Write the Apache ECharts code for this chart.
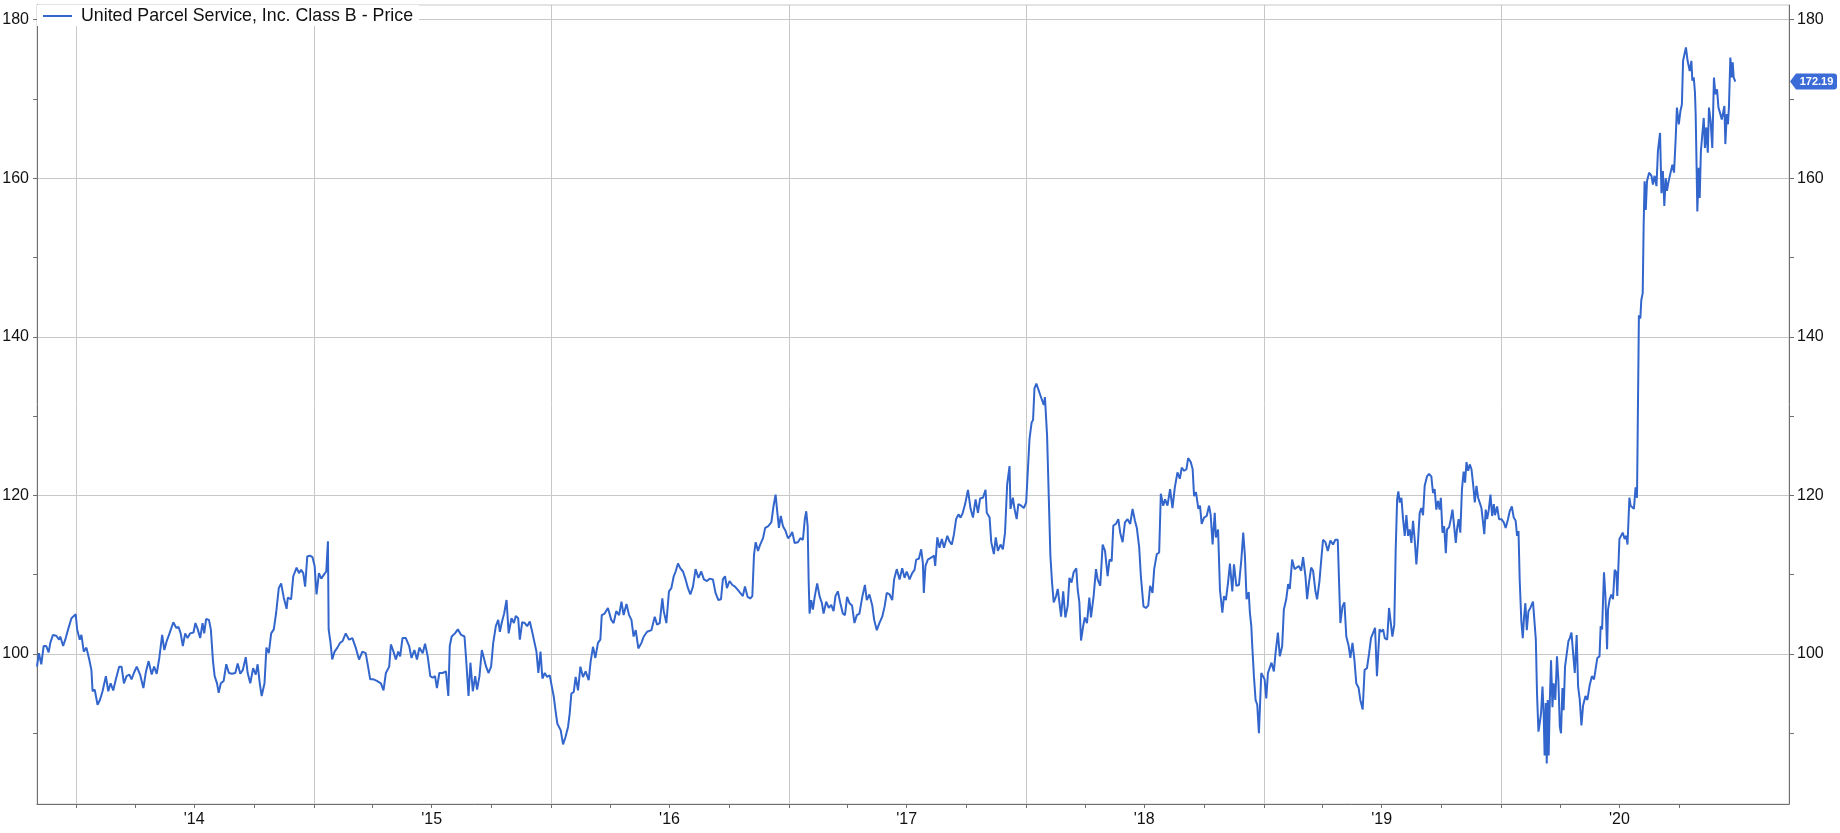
<!DOCTYPE html>
<html>
<head>
<meta charset="utf-8">
<script src="https://cdn.jsdelivr.net/npm/echarts@6/dist/echarts.min.js"></script>
<style>
  html, body { margin: 0; padding: 0; background: #fff; }
  #chart { width: 1840px; height: 833px; }
</style>
</head>
<body>
<div id="chart"></div>
<script>
// ---- Data (time as decimal year, price in USD) ----
const seriesName = 'United Parcel Service, Inc. Class B - Price';

const times = [
  2013.834,2013.842,2013.852,2013.862,2013.873,2013.883,2013.890,2013.901,2013.915,2013.927,
  2013.932,2013.944,2013.955,2013.965,2013.979,2013.997,2014.003,2014.014,2014.021,2014.031,
  2014.042,2014.054,2014.063,2014.068,2014.077,2014.089,2014.099,2014.110,2014.124,2014.134,
  2014.144,2014.155,2014.166,2014.180,2014.190,2014.200,2014.211,2014.223,2014.232,2014.242,
  2014.254,2014.268,2014.282,2014.293,2014.304,2014.317,2014.327,2014.338,2014.349,2014.361,
  2014.370,2014.380,2014.392,2014.408,2014.420,2014.430,2014.439,2014.448,2014.458,2014.468,
  2014.479,2014.493,2014.501,2014.511,2014.521,2014.531,2014.538,2014.546,2014.558,2014.566,
  2014.575,2014.582,2014.592,2014.599,2014.608,2014.620,2014.631,2014.642,2014.655,2014.669,
  2014.679,2014.690,2014.701,2014.713,2014.721,2014.732,2014.744,2014.755,2014.763,2014.772,
  2014.780,2014.792,2014.800,2014.810,2014.820,2014.831,2014.841,2014.852,2014.862,2014.873,
  2014.885,2014.890,2014.904,2014.913,2014.927,2014.937,2014.946,2014.955,2014.963,2014.972,
  2014.983,2014.994,2015.003,2015.011,2015.021,2015.031,2015.042,2015.052,2015.059,2015.062,
  2015.070,2015.077,2015.087,2015.099,2015.110,2015.120,2015.134,2015.148,2015.162,2015.176,
  2015.190,2015.204,2015.218,2015.228,2015.237,2015.251,2015.265,2015.282,2015.293,2015.303,
  2015.317,2015.324,2015.335,2015.345,2015.355,2015.363,2015.373,2015.387,2015.401,2015.411,
  2015.423,2015.434,2015.444,2015.458,2015.468,2015.479,2015.490,2015.500,2015.510,2015.518,
  2015.528,2015.542,2015.556,2015.566,2015.572,2015.580,2015.594,2015.606,2015.620,2015.634,
  2015.641,2015.651,2015.659,2015.669,2015.679,2015.687,2015.697,2015.707,2015.715,2015.725,
  2015.735,2015.746,
  2015.755,2015.766,2015.776,2015.783,2015.792,2015.801,2015.811,2015.820,2015.832,2015.842,
  2015.850,2015.860,2015.867,2015.877,2015.888,2015.898,2015.909,2015.919,2015.927,2015.937,
  2015.945,2015.954,2015.962,2015.972,2015.982,2015.993,2016.003,2016.010,2016.018,2016.025,
  2016.032,2016.039,2016.049,2016.059,2016.070,2016.077,2016.084,2016.094,2016.102,2016.112,
  2016.122,2016.133,2016.144,2016.157,2016.165,2016.175,2016.185,2016.196,2016.206,2016.212,
  2016.224,2016.238,2016.252,2016.262,2016.273,2016.285,2016.295,2016.304,2016.316,2016.327,
  2016.337,2016.346,2016.355,2016.366,2016.379,2016.389,2016.403,2016.421,2016.435,2016.445,
  2016.456,2016.467,2016.473,2016.484,2016.495,2016.505,2016.515,2016.523,2016.533,2016.543,
  2016.554,2016.565,2016.575,2016.585,2016.596,2016.607,2016.619,2016.631,2016.642,2016.655,
  2016.666,2016.680,2016.691,2016.703,2016.714,2016.722,2016.731,2016.739,2016.750,2016.762,
  2016.773,2016.784,2016.795,2016.806,2016.815,2016.826,2016.837,2016.846,2016.853,2016.860,
  2016.870,2016.879,2016.891,2016.900,2016.912,2016.926,2016.935,2016.944,2016.950,2016.958,
  2016.966,2016.975,2016.986,2016.996,2017.006,2017.014,2017.024,2017.038,2017.048,2017.059,
  2017.067,2017.073,2017.079,2017.083,2017.087,2017.094,2017.101,2017.109,2017.119,2017.129,
  2017.139,2017.146,2017.157,2017.168,2017.178,2017.188,2017.196,2017.206,2017.216,2017.227,
  2017.236,2017.245,2017.255,2017.266,2017.276,2017.286,2017.297,2017.309,2017.320,2017.328,
  2017.339,2017.351,2017.359,2017.370,2017.381,2017.393,2017.403,2017.412,2017.424,2017.435,
  2017.443,2017.454,2017.466,2017.477,2017.487,2017.496,2017.508,2017.519,2017.529,2017.536,
  2017.547,2017.557,2017.564,2017.568,2017.575,2017.585,
  2017.592,2017.602,2017.611,2017.616,2017.625,2017.634,2017.644,2017.653,2017.667,2017.676,
  2017.686,2017.695,2017.704,2017.714,2017.723,2017.732,2017.742,2017.754,2017.765,2017.775,
  2017.786,2017.796,2017.805,2017.817,2017.828,2017.833,2017.845,2017.852,2017.863,2017.871,
  2017.880,2017.891,2017.901,2017.910,2017.919,2017.929,2017.933,2017.943,2017.950,2017.959,
  2017.966,2017.978,2017.989,2017.999,2018.006,2018.013,2018.022,2018.028,2018.034,2018.042,
  2018.050,2018.059,2018.067,2018.073,2018.078,2018.087,2018.094,2018.101,2018.108,2018.115,
  2018.125,2018.132,2018.139,2018.146,2018.155,2018.164,2018.174,2018.181,2018.190,2018.199,
  2018.210,2018.216,2018.223,2018.230,2018.239,2018.246,2018.255,2018.265,2018.272,2018.283,
  2018.293,2018.300,2018.311,2018.321,2018.331,2018.342,2018.350,2018.359,2018.366,2018.377,
  2018.387,2018.395,2018.405,2018.415,2018.426,2018.437,2018.447,2018.457,2018.465,2018.475,
  2018.482,2018.493,2018.503,2018.513,2018.521,2018.531,2018.538,2018.549,2018.559,2018.566,
  2018.576,2018.584,2018.594,2018.605,2018.615,2018.625,2018.636,2018.646,2018.654,2018.664,
  2018.674,2018.681,2018.692,2018.700,2018.706,2018.714,2018.724,2018.731,2018.738,2018.748,
  2018.759,2018.769,2018.776,2018.784,2018.793,2018.798,2018.807,2018.815,2018.825,2018.832,
  2018.840,2018.849,2018.857,2018.867,2018.874,2018.884,2018.895,2018.905,2018.913,2018.920,
  2018.927,2018.936,2018.941,2018.947,2018.951,2018.958,2018.965,2018.972,2018.979,2018.983,
  2018.989,2018.996,2019.003,2019.010,2019.017,2019.025,2019.032,2019.042,2019.049,2019.059,
  2019.067,2019.077,2019.084,2019.094,2019.102,2019.109,2019.119,2019.129,2019.137,2019.147,
  2019.157,2019.165,2019.175,2019.182,2019.189,2019.199,2019.207,2019.217,2019.224,2019.234,
  2019.241,2019.249,2019.259,2019.269,2019.280,2019.291,2019.301,2019.311,2019.317,2019.322,
  2019.331,2019.339,2019.347,2019.357,2019.364,2019.373,2019.381,2019.389,2019.399,2019.406,
  2019.416,2019.424,2019.434,2019.443,2019.451,2019.459,2019.468,2019.476,2019.487,
  2019.495,2019.502,2019.509,2019.519,2019.527,2019.535,2019.541,2019.549,2019.555,2019.561,
  2019.566,2019.572,2019.579,2019.586,2019.593,2019.600,2019.607,2019.614,2019.621,2019.628,
  2019.635,2019.642,2019.649,2019.656,2019.663,2019.670,2019.677,2019.687,2019.695,2019.705,
  2019.712,2019.719,2019.726,2019.733,2019.740,2019.745,2019.752,2019.759,2019.766,2019.771,
  2019.780,2019.787,2019.794,2019.799,2019.808,2019.813,2019.820,2019.827,2019.834,2019.841,
  2019.847,2019.853,2019.860,2019.867,2019.874,2019.881,2019.888,2019.895,2019.902,2019.909,
  2019.916,2019.923,2019.928,2019.934,2019.940,2019.947,2019.954,2019.961,2019.968,2019.973,
  2019.982,2019.990,2020.000,2020.010,2020.018,2020.027,2020.035,2020.044,2020.052,2020.060,
  2020.066,2020.072,2020.077,2020.084,2020.090,2020.095,2020.101,2020.107,2020.114,2020.122,
  2020.133,2020.139,2020.145,2020.150,2020.156,2020.161,2020.167,2020.173,2020.178,2020.182,
  2020.187,2020.191,2020.195,2020.199,2020.204,2020.209,2020.215,2020.220,2020.227,2020.234,
  2020.240,2020.246,2020.251,2020.257,2020.262,2020.268,2020.276,2020.282,2020.288,
  2020.295,2020.302,2020.309,2020.317,2020.323,2020.330,2020.337,2020.344,2020.354,2020.362,
  2020.372,2020.381,2020.390,2020.396,2020.404,2020.413,2020.418,2020.424,2020.432,2020.438,
  2020.445,2020.449,2020.456,2020.463,2020.470,2020.477,2020.484,2020.488,2020.497,2020.505,
  2020.511,2020.519,2020.526,2020.531,2020.539,2020.544,2020.552,2020.558,2020.565,2020.571,
  2020.579,2020.585,2020.589,2020.595,2020.599,2020.603,2020.608,2020.613,2020.622,
  2020.632,2020.638,2020.645,2020.653,2020.659,2020.668,2020.674,2020.680,2020.686,2020.692,
  2020.697,2020.704,2020.712,2020.720,2020.727,2020.734,2020.739,2020.747,2020.754,2020.760,
  2020.765,2020.771,2020.777,2020.784,2020.793,2020.800,2020.804,2020.810,2020.815,2020.818,
  2020.822,2020.825,2020.831,2020.835,2020.840,2020.846,2020.852,2020.857,2020.863,2020.869,
  2020.874,2020.881,2020.888,2020.895,2020.901,2020.908,2020.914,2020.920,2020.928,2020.933,
  2020.939,2020.943,2020.949,2020.954,2020.958,2020.964,2020.970,2020.974,2020.978,2020.985
];

const prices = [
  98.4,100.1,98.7,101.0,101.0,100.2,101.4,102.4,102.3,101.8,
  102.2,101.0,102.0,103.1,104.5,105.0,103.1,101.8,102.4,100.3,
  100.8,99.3,98.0,95.3,95.5,93.6,94.2,95.3,97.2,95.3,
  96.3,95.4,96.8,98.4,98.4,96.3,97.2,97.4,96.8,97.6,
  98.4,97.4,95.7,97.8,99.1,97.4,98.4,97.5,99.5,102.4,
  100.5,101.6,102.6,104.0,103.3,103.4,102.6,101.0,102.6,102.0,
  102.6,102.7,103.9,103.1,102.0,103.9,102.6,104.4,104.3,103.1,
  99.1,97.2,96.3,95.1,96.3,96.6,98.7,97.6,97.5,97.6,
  98.8,97.5,98.0,99.6,97.6,96.3,98.2,97.4,98.7,96.3,
  94.7,96.3,100.8,100.1,102.6,103.1,105.2,108.3,108.9,107.1,
  105.7,107.1,106.9,109.8,110.9,110.2,110.6,110.2,108.5,112.3,
  112.4,112.2,111.1,107.5,110.2,109.5,110.0,110.4,114.2,103.1,
  101.4,99.3,100.3,100.8,101.4,101.6,102.6,101.8,102.0,100.8,
  99.3,100.3,100.1,98.4,96.8,96.8,96.6,96.3,95.4,97.6,
  98.4,101.2,100.3,99.3,100.3,99.7,102.0,102.0,101.0,99.5,
  100.5,99.3,100.8,100.1,101.3,99.7,97.2,97.0,97.2,95.7,
  97.6,97.6,97.8,94.7,101.0,102.2,102.6,103.1,102.4,102.2,
  99.3,94.7,98.9,95.3,97.2,95.5,97.2,100.5,100.5,98.4,
  97.6,98.4,
  101.4,103.5,104.3,102.8,104.1,105.1,106.8,102.6,104.5,103.9,
  104.8,104.5,101.8,104.0,103.9,103.5,104.1,102.8,103.0,100.3,
  97.6,100.3,96.9,97.6,97.1,97.3,95.7,94.6,92.7,91.2,
  91.4,90.4,88.6,89.5,90.8,92.5,95.0,95.2,97.1,95.4,
  98.4,97.1,97.8,96.7,99.0,100.9,99.5,101.4,101.8,104.9,
  105.1,105.8,104.3,103.9,105.4,104.9,106.6,104.9,106.3,104.9,
  104.3,102.2,103.0,100.7,101.4,102.2,102.8,103.0,104.7,103.7,
  103.9,107.0,105.4,103.9,107.9,108.3,109.8,110.4,111.4,110.8,
  110.4,109.4,108.3,107.5,108.5,110.7,109.6,110.4,109.4,109.2,
  109.5,109.4,107.7,106.8,106.9,109.4,109.8,108.3,109.2,108.7,
  108.5,108.1,107.7,107.3,108.5,107.2,107.0,107.3,112.5,114.1,
  113.0,113.8,114.6,115.9,116.1,116.6,118.6,120.1,118.2,115.9,
  117.4,116.1,115.5,114.6,114.9,115.4,114.0,114.1,114.6,114.4,
  117.0,118.0,116.1,109.4,105.1,106.8,105.6,107.3,108.9,107.3,
  106.4,105.1,106.6,105.8,106.2,105.4,107.3,107.9,106.5,105.1,
  104.9,107.2,106.4,106.1,103.9,104.9,105.1,107.2,108.7,106.8,
  107.5,106.1,104.3,103.0,103.9,104.7,106.0,107.7,107.5,106.8,
  109.4,110.7,109.4,110.8,109.6,110.4,109.4,110.2,110.6,111.9,
  112.0,113.2,111.5,107.7,111.1,111.9,
  111.7,112.2,112.4,111.1,114.7,113.4,114.5,113.4,114.9,114.2,
  113.8,115.1,117.0,117.6,117.2,117.8,118.9,120.7,118.3,117.2,
  119.5,117.8,119.6,119.7,120.7,117.8,117.2,114.1,112.6,114.7,
  113.0,113.8,113.2,115.3,121.4,123.7,118.3,119.7,118.3,117.0,
  118.9,118.7,118.4,119.1,119.3,127.1,129.2,129.5,133.5,134.1,
  133.9,132.6,132.8,131.4,132.4,127.6,120.0,112.4,109.0,106.5,
  107.3,108.2,106.5,104.7,107.9,104.6,106.1,109.6,109.0,110.3,
  110.8,108.1,106.5,101.7,103.5,104.6,103.9,107.1,104.6,107.3,
  110.7,109.4,108.6,113.8,113.0,109.8,111.9,111.7,116.2,116.4,
  117.0,115.3,114.1,116.6,117.0,116.4,118.3,116.8,115.9,113.4,
  109.8,106.0,105.8,106.1,108.6,107.7,110.7,112.6,112.8,120.2,
  118.7,119.5,118.7,120.8,118.4,121.0,122.9,122.1,123.5,123.1,
  123.3,124.7,124.2,123.3,119.9,120.4,118.3,118.7,116.4,117.2,
  117.4,118.7,117.5,113.8,117.8,114.7,115.7,108.1,105.2,107.3,
  106.8,109.0,111.4,107.9,111.3,108.6,108.7,111.9,115.3,112.4,
  106.9,107.8,105.2,103.5,101.0,97.2,94.2,93.6,90.0,89.8,
  97.6,97.4,96.8,94.4,97.6,97.4,98.9,97.8,100.1,102.7,
  99.7,101.0,105.6,106.9,108.8,108.2,111.9,110.7,110.9,111.1,
  110.5,112.2,109.8,106.9,108.8,110.9,110.5,107.9,106.9,109.2,
  111.7,114.4,114.1,113.0,114.3,113.8,114.4,114.4,108.6,103.9,
  106.0,106.5,102.2,101.0,99.5,101.4,99.3,96.3,95.7,94.2,
  93.0,98.0,98.2,100.1,102.0,101.8,103.3,97.2,103.1,
  102.8,103.1,102.0,101.8,105.8,105.6,102.2,103.7,113.2,119.5,
  120.5,119.1,119.7,117.0,114.9,117.5,114.9,115.7,114.0,116.8,
  114.4,111.3,114.2,117.8,118.4,117.5,121.2,122.4,122.7,122.4,
  120.3,120.8,118.2,119.3,118.2,119.7,115.3,116.1,112.7,115.7,
  116.0,117.0,118.2,118.4,114.0,115.7,117.0,115.3,120.8,123.0,
  121.6,124.2,123.1,123.9,123.3,121.4,119.1,121.2,119.7,119.6,
  118.4,116.5,115.1,118.2,117.0,118.2,120.1,117.4,118.9,117.5,
  118.6,117.0,117.0,116.6,115.9,116.9,118.0,118.6,117.2,116.8,
  114.9,115.5,109.4,104.1,102.0,104.5,106.4,103.0,105.4,105.8,
  106.6,106.4,101.8,95.0,90.2,91.2,92.5,95.9,92.5,87.2,
  93.8,86.2,94.2,87.2,94.2,99.2,93.3,96.3,94.2,99.7,
  96.7,90.8,90.0,95.7,92.9,98.4,98.5,101.6,102.0,
  102.7,100.1,97.6,102.4,95.9,94.2,91.0,93.5,94.7,94.2,
  96.1,97.2,96.8,96.8,99.5,99.7,103.5,103.1,110.3,107.3,
  100.6,105.6,106.9,107.5,106.9,110.6,110.3,107.3,114.5,114.4,
  115.3,114.5,114.9,113.8,119.7,118.7,118.9,118.3,121.0,119.7,
  142.7,142.3,144.6,145.5,154.1,159.6,156.0,159.6,160.7,
  160.3,159.2,160.3,159.0,163.4,165.7,158.1,160.9,156.5,160.0,
  158.4,159.6,159.7,161.7,160.7,165.1,168.9,166.8,168.5,169.3,
  174.8,174.6,176.5,174.8,173.5,174.8,172.3,172.7,170.8,168.1,
  161.3,155.8,161.3,157.5,163.4,163.2,167.6,163.8,166.4,163.2,
  168.9,167.2,163.8,172.7,170.6,171.2,168.9,168.3,167.4,167.6,
  169.1,164.3,168.1,166.8,168.9,175.2,172.7,174.6,172.7,172.19
];

const years = [2014, 2015, 2016, 2017, 2018, 2019, 2020];
const yearLabels = ["'14", "'15", "'16", "'17", "'18", "'19", "'20"];
const yLabelValues = [100, 120, 140, 160, 180];
const yTickValues = [90, 100, 110, 120, 130, 140, 150, 160, 170, 180];
const yGridValues = [100, 120, 140, 160, 180];

// ---- Axis helpers ----
function decYear(y, m, d) {
  const s = Date.UTC(y, 0, 1), e = Date.UTC(y + 1, 0, 1);
  return y + (Date.UTC(y, m - 1, d) - s) / (e - s);
}
const X_MIN = 2013.834, X_MAX = 2021.211;
const Y_MIN = 81.08, Y_MAX = 181.84;

const quarterTicks = [];
years.forEach(y => [1, 4, 7, 10].forEach(m => quarterTicks.push(decYear(y, m, 1))));
const yearGrid = years.map(y => decYear(y, 1, 1));
const labelPos = years.map(y => decYear(y, 7, 1));

const data = times.map((t, i) => [t, prices[i]]);
const lastPrice = prices[prices.length - 1];

const FONT = 'Liberation Sans, Arial, sans-serif';
const AXIS_COLOR = '#707070';
const GRID_COLOR = '#c8c8c8';
const LINE_COLOR = '#3366cc';

const chart = echarts.init(document.getElementById('chart'), null, { renderer: 'canvas' });
chart.setOption({
  animation: false,
  backgroundColor: '#ffffff',
  textStyle: { fontFamily: FONT },
  grid: {
    left: 37, right: 51, top: 5, bottom: 29,
    show: true, borderColor: GRID_COLOR, borderWidth: 1,
    outerBoundsMode: 'none'
  },
  legend: {
    left: 37, top: 5,
    padding: [2, 6, 1, 6],
    backgroundColor: '#ffffff',
    icon: 'rect',
    itemWidth: 29, itemHeight: 2,
    selectedMode: false,
    textStyle: { fontSize: 17.8, color: '#111', fontFamily: FONT, lineHeight: 18, padding: [0, 0, 0, 4] },
    data: [seriesName]
  },
  xAxis: [
    {
      type: 'value', min: X_MIN, max: X_MAX, position: 'bottom',
      axisLine: { show: true, lineStyle: { color: AXIS_COLOR, width: 1 } },
      axisTick: { show: true, length: 4, inside: false, customValues: quarterTicks,
                  lineStyle: { color: AXIS_COLOR } },
      axisLabel: {
        show: true, customValues: labelPos, margin: 8,
        fontSize: 16, color: '#111', fontFamily: FONT,
        formatter: v => yearLabels[years.indexOf(Math.floor(v))] || ''
      },
      splitLine: { show: false }
    },
    {
      type: 'value', min: X_MIN, max: X_MAX, position: 'bottom',
      axisLine: { show: false },
      axisTick: { show: false, customValues: yearGrid },
      axisLabel: { show: false },
      splitLine: { show: true, lineStyle: { color: GRID_COLOR, width: 1 } }
    }
  ],
  yAxis: [
    {
      type: 'value', min: Y_MIN, max: Y_MAX, position: 'left',
      axisLine: { show: true, lineStyle: { color: AXIS_COLOR, width: 1 } },
      axisTick: { show: true, length: 4, customValues: yTickValues, lineStyle: { color: AXIS_COLOR } },
      axisLabel: { show: true, customValues: yLabelValues, margin: 8, fontSize: 16, color: '#111', fontFamily: FONT },
      splitLine: { show: false }
    },
    {
      type: 'value', min: Y_MIN, max: Y_MAX, position: 'right',
      axisLine: { show: true, lineStyle: { color: AXIS_COLOR, width: 1 } },
      axisTick: { show: true, length: 5, customValues: yTickValues, lineStyle: { color: AXIS_COLOR } },
      axisLabel: { show: true, customValues: yLabelValues, margin: 8, fontSize: 16, color: '#111', fontFamily: FONT },
      splitLine: { show: false }
    },
    {
      type: 'value', min: Y_MIN, max: Y_MAX, position: 'left',
      axisLine: { show: false },
      axisTick: { show: false, customValues: yGridValues },
      axisLabel: { show: false },
      splitLine: { show: true, lineStyle: { color: GRID_COLOR, width: 1 } }
    }
  ],
  series: [
    {
      name: seriesName,
      type: 'line',
      xAxisIndex: 0, yAxisIndex: 0,
      data: data,
      showSymbol: false, symbol: 'none',
      clip: false,
      lineStyle: { color: LINE_COLOR, width: 2 },
      itemStyle: { color: LINE_COLOR },
      emphasis: { disabled: true },
      markPoint: {
        silent: true,
        symbol: 'path://M0,8 L6,0 L44,0 Q47,0 47,3 L47,13 Q47,16 44,16 L6,16 Z',
        symbolSize: [47, 16],
        symbolOffset: [24.5, 0],
        itemStyle: { color: '#3a6bd6' },
        label: {
          show: true, position: 'inside', offset: [3, 0],
          color: '#fff', fontSize: 11, fontWeight: 'bold', fontFamily: FONT,
          formatter: p => Number(p.value).toFixed(2)
        },
        data: [{ coord: [X_MAX, lastPrice], value: lastPrice }]
      }
    }
  ]
});
</script>
</body>
</html>
